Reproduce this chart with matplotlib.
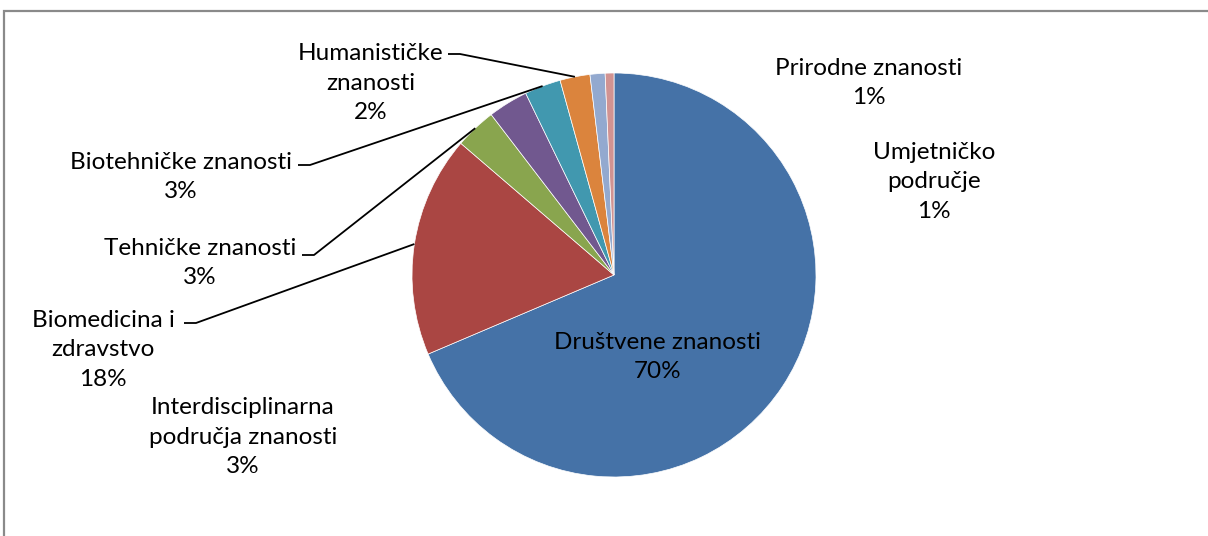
import numpy as np
import matplotlib
matplotlib.use('Agg')
from matplotlib import pyplot as plt
from matplotlib.patches import Rectangle

# data (clockwise from 12 o'clock)
fields = ['Društvene znanosti', 'Biomedicina i\nzdravstvo', 'Tehničke znanosti',
          'Interdisciplinarna\npodručja znanosti', 'Biotehničke znanosti',
          'Humanističke\nznanosti', 'Prirodne znanosti', 'Umjetničko\npodručje']
shares = [68.6, 17.7, 3.3, 3.2, 2.9, 2.4, 1.2, 0.7]
pct_labels = ['70%', '18%', '3%', '3%', '3%', '2%', '1%', '1%']
colors = ['#4572A7', '#AA4643', '#89A54E', '#71588F', '#4198AF', '#DB843D', '#93A9CF', '#D19392']

W, H = 1208, 536
fig = plt.figure(figsize=(W / 100, H / 100), dpi=100)
ax = fig.add_axes([0, 0, 1, 1])

def py(y):
    # pixel row (from top) -> data y
    return H - y

# chart frame
ax.add_patch(Rectangle((4, -10), W + 20, py(11) + 10, fill=False,
                       edgecolor='#8a8a8a', linewidth=1.6))

cx, cy, R = 614, py(275), 202
wedges, _ = ax.pie(shares, colors=colors, startangle=90, counterclock=False,
                   center=(cx, cy), radius=R, frame=True,
                   wedgeprops=dict(edgecolor='white', linewidth=0.5))
ax.set_xlim(0, W)
ax.set_ylim(0, H)
ax.set_aspect('equal')
ax.axis('off')

font = dict(family=['Lato', 'DejaVu Sans'], fontsize=17.5, color='black')

# label block centres (pixel coords) and leader tick start (None = no leader)
label_pos = [(658, 357), (103, 350), (200, 263), (243, 437), (181, 177),
             (371, 83), (869, 83), (934, 182)]
leader_start = [None, (184, 323), (302, 255), None, (298, 165),
                (448, 54), None, None]

for i, w in enumerate(wedges):
    x, y = label_pos[i]
    ax.text(x, py(y), fields[i] + '\n' + pct_labels[i], ha='center', va='center',
            multialignment='center', linespacing=1.5, **font)
    if leader_start[i] is not None:
        sx, sy = leader_start[i]
        mid = np.deg2rad((w.theta1 + w.theta2) / 2)
        ex, ey = cx + R * np.cos(mid), cy + R * np.sin(mid)
        ax.plot([sx, sx + 12, ex], [py(sy), py(sy), ey], color='black', linewidth=1.3,
                solid_capstyle='butt')

plt.savefig('out.png', dpi=100)
